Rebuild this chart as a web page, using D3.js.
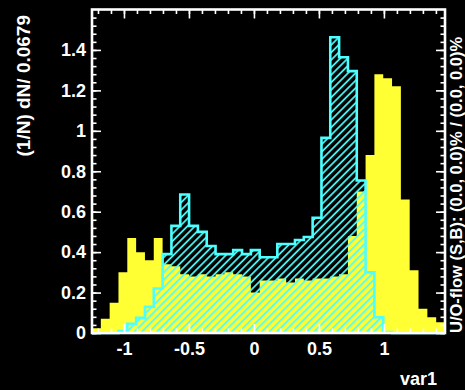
<!DOCTYPE html>
<html>
<head>
<meta charset="utf-8">
<script src="https://cdn.jsdelivr.net/npm/d3@7"></script>
<style>
  html, body { margin: 0; padding: 0; background: #000; }
  svg { display: block; }
  text { font-family: "Liberation Sans", Arial, Helvetica, sans-serif; font-weight: bold; fill: #fff; }
</style>
</head>
<body>
<div id="chart"></div>
<script>
// ---- data ----
const xMin = -1.246;
const xMax = 1.470;           // 40 bins of width 0.0679
const signalValues = [0, 0, 0, 0.01, 0.045, 0.075, 0.13, 0.22, 0.39, 0.53,
  0.685, 0.53, 0.50, 0.43, 0.39, 0.39, 0.41, 0.39, 0.41, 0.375,
  0.375, 0.44, 0.44, 0.46, 0.475, 0.57, 0.965, 1.463, 1.364, 1.295,
  0.754, 0.30, 0.078, 0.005, 0, 0, 0, 0, 0, 0];
const backgroundValues = [0.024, 0.07, 0.15, 0.30, 0.47, 0.40, 0.36, 0.47, 0.34, 0.33,
  0.29, 0.28, 0.29, 0.28, 0.29, 0.30, 0.29, 0.28, 0.20, 0.26,
  0.26, 0.27, 0.25, 0.27, 0.26, 0.27, 0.27, 0.28, 0.29, 0.48,
  0.70, 0.88, 1.28, 1.26, 1.22, 0.66, 0.31, 0.12, 0.078, 0.053];
const xTickValues = [-1, -0.5, 0, 0.5, 1];
const xTickLabels = ["-1", "-0.5", "0", "0.5", "1"];
const yTickValues = [0, 0.2, 0.4, 0.6, 0.8, 1, 1.2, 1.4];
const yTickLabels = ["0", "0.2", "0.4", "0.6", "0.8", "1", "1.2", "1.4"];
const yMax = 1.6;
const yTitle = "(1/N) dN/ 0.0679";
const xTitle = "var1";
const rightTitle = "U/O-flow (S,B): (0.0, 0.0)% / (0.0, 0.0)%";

// ---- layout ----
const W = 465, H = 390;
const L = 92, R = 445, T = 9.5, B = 333;
const CYAN = "#4dffff", YELLOW = "#ffff33";

const svg = d3.select("#chart").append("svg").attr("width", W).attr("height", H);
svg.append("rect").attr("width", W).attr("height", H).attr("fill", "#000");

const defs = svg.append("defs");
const pat = defs.append("pattern")
  .attr("id", "hatch").attr("patternUnits", "userSpaceOnUse")
  .attr("width", 5.3).attr("height", 5.3)
  .attr("patternTransform", "rotate(45)");
pat.append("line").attr("x1", 1).attr("y1", 0).attr("x2", 1).attr("y2", 5.3)
  .attr("stroke", CYAN).attr("stroke-width", 1.7);

const x = d3.scaleLinear().domain([xMin, xMax]).range([L, R]);
const y = d3.scaleLinear().domain([0, yMax]).range([B, T]);
const nBins = signalValues.length;
const bw = (xMax - xMin) / nBins;

function stepData(vals) {
  const pts = vals.map((v, i) => ({ e: xMin + i * bw, v }));
  pts.push({ e: xMax, v: vals[vals.length - 1] });
  return pts;
}

const area = d3.area().curve(d3.curveStepAfter)
  .x(d => x(d.e)).y0(y(0)).y1(d => y(d.v));

// background: solid yellow
svg.append("path").datum(stepData(backgroundValues))
  .attr("d", area).attr("fill", YELLOW);

// signal: cyan hatch + outline
svg.append("path").datum(stepData(signalValues))
  .attr("d", area).attr("fill", "url(#hatch)");

const outline = d3.line().x(d => d[0]).y(d => d[1]);
const opts = [[x(xMin), y(0)]];
signalValues.forEach((v, i) => {
  opts.push([x(xMin + i * bw), y(v)]);
  opts.push([x(xMin + (i + 1) * bw), y(v)]);
});
opts.push([x(xMax), y(0)]);
svg.append("path").attr("d", outline(opts))
  .attr("fill", "none").attr("stroke", CYAN).attr("stroke-width", 2.6)
  .attr("stroke-linejoin", "miter");

// ---- axes ----
const minorX = d3.range(-1.2, 1.45, 0.1).map(v => +v.toFixed(2));
const minorY = d3.range(0, 1.6, 0.04).map(v => +v.toFixed(2));

function styleAxis(g) {
  g.select(".domain").remove();
  g.selectAll("line").attr("stroke", "#fff").attr("stroke-width", 1.6);
  g.selectAll("text").attr("fill", "#fff").attr("font-size", 18)
    .attr("font-family", "Liberation Sans, Arial, sans-serif").attr("font-weight", "bold");
}

// bottom
svg.append("g").attr("transform", `translate(0,${B})`)
  .call(d3.axisBottom(x).tickValues(minorX).tickSizeInner(-4.5).tickSizeOuter(0).tickFormat(""))
  .call(styleAxis);
svg.append("g").attr("transform", `translate(0,${B})`)
  .call(d3.axisBottom(x).tickValues(xTickValues).tickSizeInner(-9).tickSizeOuter(0).tickPadding(9)
    .tickFormat((d, i) => xTickLabels[i]))
  .call(styleAxis);
// top
svg.append("g").attr("transform", `translate(0,${T})`)
  .call(d3.axisTop(x).tickValues(minorX).tickSizeInner(-4.5).tickSizeOuter(0).tickFormat(""))
  .call(styleAxis);
svg.append("g").attr("transform", `translate(0,${T})`)
  .call(d3.axisTop(x).tickValues(xTickValues).tickSizeInner(-9).tickSizeOuter(0).tickFormat(""))
  .call(styleAxis);
// left
svg.append("g").attr("transform", `translate(${L},0)`)
  .call(d3.axisLeft(y).tickValues(minorY).tickSizeInner(-4.5).tickSizeOuter(0).tickFormat(""))
  .call(styleAxis);
svg.append("g").attr("transform", `translate(${L},0)`)
  .call(d3.axisLeft(y).tickValues(yTickValues).tickSizeInner(-9).tickSizeOuter(0).tickPadding(6)
    .tickFormat((d, i) => yTickLabels[i]))
  .call(styleAxis);
// right
svg.append("g").attr("transform", `translate(${R},0)`)
  .call(d3.axisRight(y).tickValues(minorY).tickSizeInner(-4.5).tickSizeOuter(0).tickFormat(""))
  .call(styleAxis);
svg.append("g").attr("transform", `translate(${R},0)`)
  .call(d3.axisRight(y).tickValues(yTickValues).tickSizeInner(-9).tickSizeOuter(0).tickFormat(""))
  .call(styleAxis);

// frame
svg.append("rect").attr("x", L).attr("y", T).attr("width", R - L).attr("height", B - T)
  .attr("fill", "none").attr("stroke", "#fff").attr("stroke-width", 2.6);

// titles
svg.append("text").attr("transform", `translate(30,15) rotate(-90)`)
  .attr("text-anchor", "end").attr("font-size", 19).text(yTitle);
svg.append("text").attr("x", 437).attr("y", 385)
  .attr("text-anchor", "end").attr("font-size", 18).text(xTitle);
svg.append("text").attr("transform", `translate(462,333) rotate(-90)`)
  .attr("text-anchor", "start").attr("font-size", 16.5).text(rightTitle);
</script>
</body>
</html>
